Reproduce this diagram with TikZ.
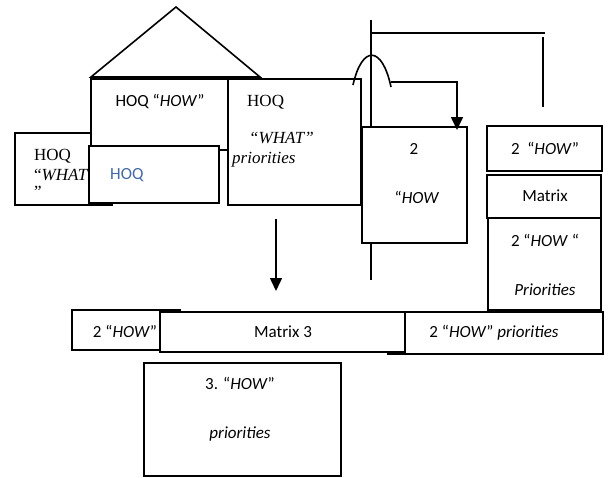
\documentclass[tikz,border=0pt]{standalone}
\usepackage{fontspec}
\setmainfont{Liberation Serif}
\newfontfamily\calib{Carlito}
\usetikzlibrary{arrows.meta}
\definecolor{hoqblue}{RGB}{68,106,164}
\tikzset{
 bx/.style={draw, line width=1.6pt, fill=white, inner sep=0pt, outer sep=0pt, anchor=north west},
 sans/.style={font=\calib\fontsize{17}{20}\selectfont, inner sep=0pt},
 serif/.style={font=\fontsize{17}{20}\selectfont, inner sep=0pt},
 ln/.style={line width=1.6pt},
 arr/.style={ln, -{Triangle[width=12pt,length=13pt]}}
}
\begin{document}
\begin{tikzpicture}[x=1pt,y=-1pt]
\useasboundingbox (0,0) rectangle (608,477);
% roof
\coordinate (rl) at (91,77); \coordinate (rt) at (176,7); \coordinate (rr) at (260,77);
\draw[ln] (rl) -- (rt) -- (rr) -- cycle;
% left box
\node[bx, minimum width=97, minimum height=72] (lw) at (15,133) {};
\node[serif, anchor=base west] (lw1) at (34,160) {HOQ};
\node[serif, anchor=base west] (lw2) at (34,180) {“\textit{WHAT}};
\node[serif, anchor=base west] (lw3) at (34,197) {”};
% HOQ HOW box
\node[bx, minimum width=137, minimum height=71] (how) at (91,79) {};
\node[sans] (howt) at (160,101) {HOQ “\textit{HOW}”};
% blue HOQ box
\node[bx, minimum width=130, minimum height=57] (blue) at (89,146) {};
\node[sans, text=hoqblue, anchor=base west] (bluet) at (110,179) {HOQ};
% priorities box
\node[bx, minimum width=133, minimum height=126] (prio) at (228,79) {};
\node[serif, anchor=base west] (prio1) at (247,106) {HOQ};
\node[serif, anchor=base west] (prio2) at (249,143) {\textit{“WHAT”}};
\node[serif, anchor=base west] (prio3) at (232,163) {\textit{priorities}};
% vertical line and box 2
\coordinate (vt) at (371,20); \coordinate (vb) at (371,280);
\draw[ln] (vt) -- (vb);
\node[bx, minimum width=105, minimum height=116] (box2) at (362,127) {};
\node[sans] (box2a) at (414,149) {2};
\node[sans] (box2b) at (417,197) {“\textit{HOW}};
% arc and arrow into box 2
\coordinate (a1) at (353,85); \coordinate (a2) at (391,87);
\draw[ln] (a1) .. controls (362,45) and (382,45) .. (a2);
\coordinate (h1) at (391,82); \coordinate (h2) at (457,130);
\draw[arr] (h1) -| (h2);
% top connector
\coordinate (t1) at (371,33); \coordinate (t2) at (545,33);
\draw[ln] (t1) -- (t2);
\coordinate (t3) at (543,37); \coordinate (t4) at (543,107);
\draw[ln] (t3) -- (t4);
% right column
\node[bx, minimum width=115, minimum height=45] (rh) at (487,126) {};
\node[sans] (rht) at (545,148) {2\ \ “\textit{HOW}”};
\node[bx, minimum width=114, minimum height=43] (rm) at (487,175) {};
\node[sans] (rmt) at (545,196) {Matrix};
\node[bx, minimum width=113, minimum height=92] (rp) at (488,218) {};
\node[sans] (rp1) at (545,240) {2 “\textit{HOW} “};
\node[sans] (rp2) at (545,290) {\textit{Priorities}};
% down arrow
\coordinate (d1) at (276,219); \coordinate (d2) at (276,291);
\draw[arr] (d1) -- (d2);
% bottom row
\node[bx, minimum width=108, minimum height=40] (b1) at (72,310) {};
\node[bx, minimum width=215, minimum height=42] (b3) at (388,312) {};
\node[bx, minimum width=245, minimum height=40] (bm) at (160,312) {};
\node[sans] (b1t) at (125,331) {2 “\textit{HOW}”};
\node[sans] (bmt) at (283,332) {Matrix 3};
\node[sans] (b3t) at (494,333) {2 “\textit{HOW}” \textit{priorities}};
% bottom box
\node[bx, minimum width=197, minimum height=113] (b4) at (144,363) {};
\node[sans] (b4a) at (240,383) {3. “\textit{HOW}”};
\node[sans] (b4b) at (240,434) {\textit{priorities}};
\end{tikzpicture}
\end{document}
